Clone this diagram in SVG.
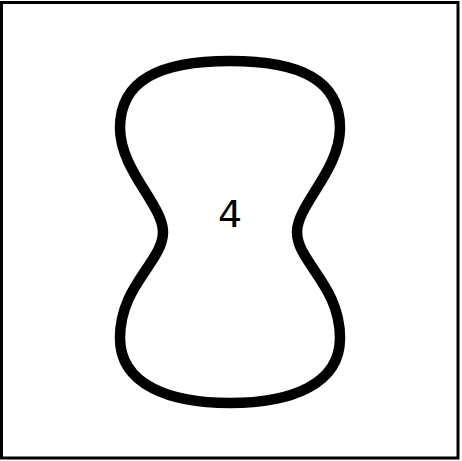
<svg xmlns="http://www.w3.org/2000/svg" width="462" height="461" viewBox="0 0 462 461">
<style>
.frame{fill:#fff;stroke:#000;stroke-width:3}
.blob{fill:none;stroke:#000;stroke-width:10.5;stroke-linejoin:round}
.lbl{font-family:"Comic Sans MS","DejaVu Sans","Liberation Sans",sans-serif;font-size:38px;fill:#000;text-anchor:middle}
</style>
<rect class="frame" x="1.5" y="2.5" width="456.5" height="455.5"/>
<g id="node-4">
<path class="blob" d="M230,61 C300,61 340,80 340,128 C340,170 297,205 297,232 C297,262 340,285 340,338 C340,385 290,403 230,403 C170,403 120,385 120,338 C120,285 163,262 163,232 C163,205 120,170 120,128 C120,80 160,61 230,61 Z"/>
<text class="lbl" x="230" y="227">4</text>
</g>
<g id="connectors"/>
</svg>
